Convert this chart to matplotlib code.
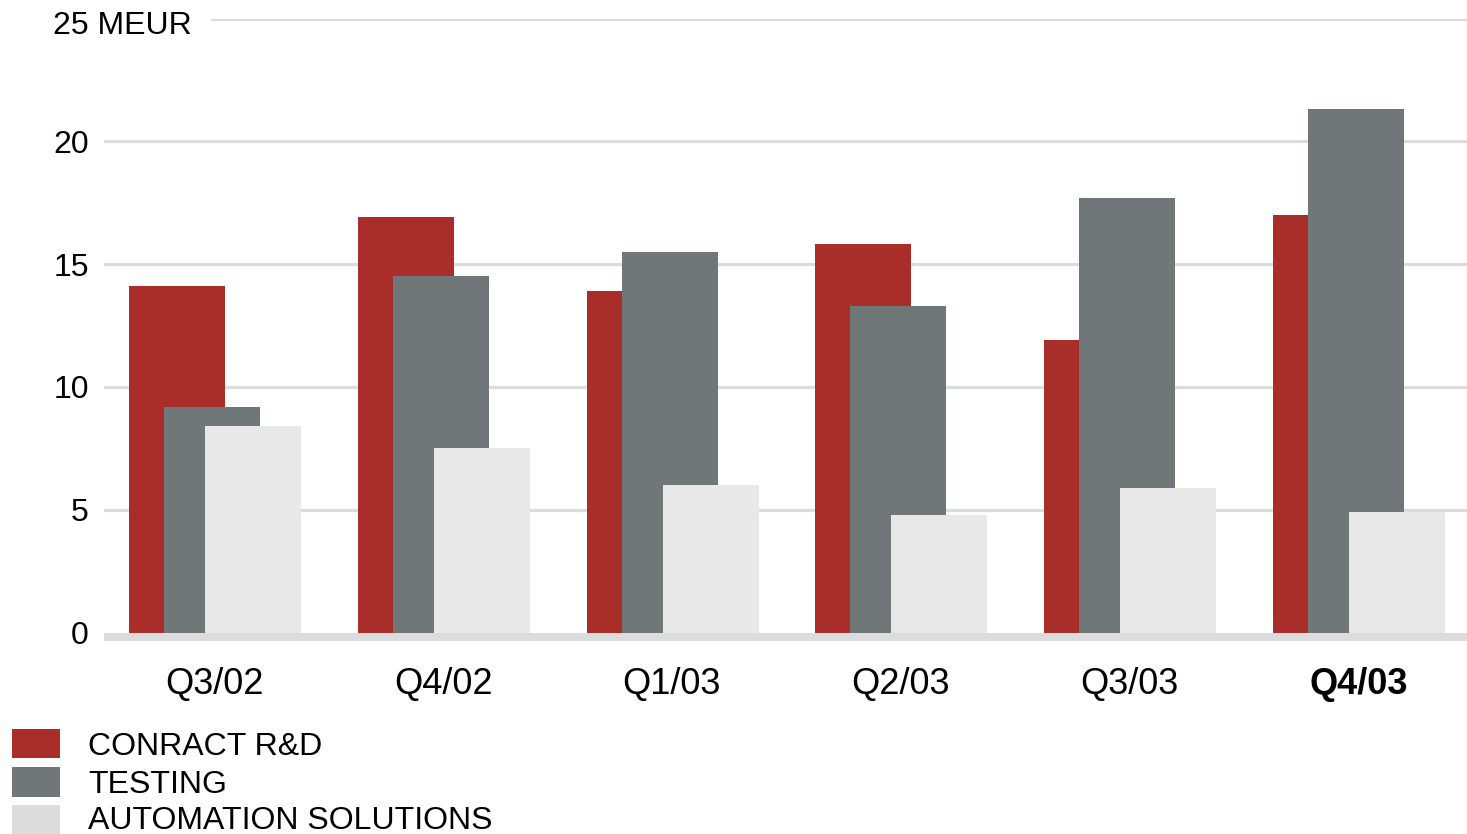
import matplotlib
matplotlib.use("Agg")
import matplotlib.pyplot as plt
from matplotlib.patches import Rectangle
import numpy as np

plt.rcParams['font.family'] = ['Liberation Sans', 'DejaVu Sans']

categories = ["Q3/02", "Q4/02", "Q1/03", "Q2/03", "Q3/03", "Q4/03"]
series_names = ["CONRACT R&D", "TESTING", "AUTOMATION SOLUTIONS"]
conract = [14.1, 16.9, 13.9, 15.8, 11.9, 17.0]
testing = [9.2, 14.5, 15.5, 13.3, 17.7, 21.3]
automation = [8.4, 7.5, 6.0, 4.8, 5.9, 4.9]
y_ticks = [0, 5, 10, 15, 20, 25]

colors = ["#A92E29", "#6F7779", "#E8E8E8"]
legend_colors = ["#A92E29", "#6F7779", "#DCDCDC"]
grid_color = "#DCDCDC"

W, H = 1467, 834
fig = plt.figure(figsize=(W / 100, H / 100), dpi=100)

px_per_unit = 24.56
y0_px = 632.5
ymin = -0.4
ymax = 25.0
bottom_px = y0_px - ymin * px_per_unit
top_px = y0_px - ymax * px_per_unit
left_px = 104
ax = fig.add_axes([left_px / W, 1 - bottom_px / H, (W - left_px) / W,
                   (bottom_px - top_px) / H])

step = 228.8
xmin = (104 - 212) / step
xmax = (1467 - 212) / step
ax.set_xlim(xmin, xmax)
ax.set_ylim(ymin, ymax)

x = np.arange(len(categories))
width = 96 / step
offsets = [-35 / step, 0.0, 41 / step]

# gridlines
for t in y_ticks[1:]:
    start = (212 - left_px) / (W - left_px) if t == 25 else 0.0
    ax.axhline(t, xmin=start, xmax=1.0, color=grid_color, lw=2.3, zorder=0)

for vals, off, c in zip([conract, testing, automation], offsets, colors):
    ax.bar(x + off, vals, width=width, color=c, zorder=2, linewidth=0)

# baseline band
ax.axhspan(-0.33, 0.0, color=grid_color, zorder=3, lw=0)

for s in ax.spines.values():
    s.set_visible(False)

ax.set_xticks(x + 0.01)
ax.set_xticklabels(categories, fontsize=26)
ax.get_xticklabels()[-1].set_fontweight('bold')
ax.tick_params(axis='x', length=0, pad=17.5)

ax.set_yticks(y_ticks)
ax.set_yticklabels([str(t) if t != 25 else "" for t in y_ticks], fontsize=23)
ax.tick_params(axis='y', length=0, pad=11)

fig.text(53 / W, 1 - 34 / H, "25 MEUR", fontsize=23, ha='left', va='baseline')

# legend
sq_tops = [729, 767, 805]
sq_h = [29, 30, 29]
baselines = [755, 793, 829]
for name, c, t, h, b in zip(series_names, legend_colors, sq_tops, sq_h, baselines):
    fig.add_artist(Rectangle((12 / W, 1 - (t + h) / H), 48 / W, h / H,
                             transform=fig.transFigure, color=c, lw=0))
    fig.text(88 / W, 1 - b / H, name, fontsize=23, ha='left', va='baseline')

fig.savefig("out.png", dpi=100)
